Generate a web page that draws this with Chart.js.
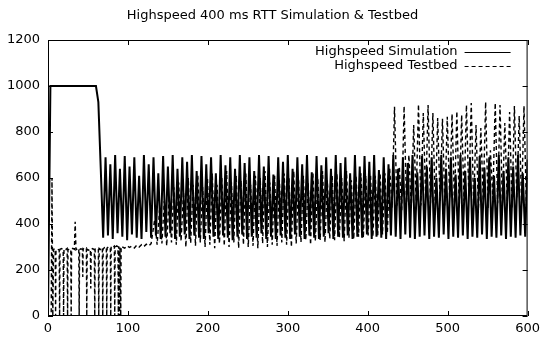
<!DOCTYPE html>
<html>
<head>
<meta charset="utf-8">
<script src="https://cdn.jsdelivr.net/npm/chart.js@4.4.1/dist/chart.umd.min.js"></script>
<style>
  body { margin: 0; background: #fff; }
</style>
</head>
<body>
<canvas id="rttChart" width="545" height="339"></canvas>
<script>
// samples every 3 s
const STEP = 3;
const xTicks = [0, 100, 200, 300, 400, 500, 600];
const yTicks = [0, 200, 400, 600, 800, 1000, 1200];

// simulation, t = 0, 3, 6 ... 600
const simulation = [
    0, 1000, 1000, 1000, 1000, 1000, 1000, 1000, 1000, 1000,
    1000, 1000, 1000, 1000, 1000, 1000, 1000, 1000, 1000, 1000,
    1000, 930, 640,
    340, 690, 350, 660, 335, 700, 360, 640, 345, 695, 330, 650,
    355, 690, 340, 610, 335, 700, 365, 660, 340, 690, 350, 620,
    335, 695, 345, 650, 360, 700, 335, 640, 345, 690, 355, 670,
    335, 700, 350, 630, 340, 695, 335, 660, 360, 690, 345, 620,
    335, 700, 350, 655, 340, 690, 330, 640, 345, 700, 355, 665,
    335, 690, 345, 630, 340, 700, 360, 650, 335, 695, 345, 615,
    335, 690, 350, 670, 340, 700, 335, 640, 355, 690, 345, 660,
    335, 700, 350, 625, 340, 695, 335, 655, 345, 690, 360, 640,
    335, 700, 345, 665, 340, 690, 350, 620, 335, 700, 345, 650,
    340, 695, 355, 670, 335, 700, 345, 635, 340, 690, 335, 660,
    350, 700, 345, 640, 335, 690, 355, 665, 340, 700, 335, 625,
    345, 695, 350, 650, 335, 690, 345, 600, 340, 700, 355, 640,
    335, 690, 345, 615, 340, 700, 350, 630, 335, 690, 345, 600,
    340, 695, 355, 645, 335, 690, 345, 610, 340, 700, 350, 630,
    335, 690, 345, 650, 340, 700, 350, 620, 345, 680
];

// testbed start-up, timeouts (irregular times)
const testbedStartT = [
    0, 4, 5, 6,
    7, 9, 9.5, 10, 12, 14, 14.5, 15, 17, 19, 19.5, 20,
    22, 24, 24.5, 25, 27, 28.5, 29, 29.5, 31, 33, 34, 35,
    37, 38.5, 39, 39.5, 41, 43, 43.5, 44, 46, 48, 48.5, 49,
    51, 53, 53.5, 54, 56, 58, 58.5, 59, 61, 63, 63.5, 64,
    66, 68, 68.5, 69, 71, 73, 73.5, 74, 76, 78, 78.5, 79,
    81, 83, 83.5, 84, 86, 87.5, 88, 88.5, 89.5, 90, 91, 91.5,
    93, 96, 99, 102, 105, 108, 111, 114, 117, 120, 123, 126, 129
];
const testbedStartV = [
    0, 0, 600, 0,
    290, 292, 0, 288, 291, 286, 0, 290, 293, 288, 0, 292,
    289, 294, 0, 287, 292, 290, 0, 291, 294, 290, 410, 288,
    293, 295, 0, 289, 292, 290, 170, 293, 288, 294, 0, 290,
    286, 291, 120, 289, 293, 288, 0, 292, 296, 290, 0, 294,
    289, 297, 0, 292, 298, 300, 0, 296, 301, 297, 0, 303,
    299, 304, 0, 300, 305, 301, 0, 303, 0, 298, 0, 302,
    300, 295, 305, 298, 304, 296, 308, 300, 310, 302, 312, 305, 315
];

// testbed, t = 133.5, 136.5 ... 600
const TESTBED_T0 = 133.5;
const testbed = [
    420, 310, 460, 315, 500, 305, 520, 320, 560, 310, 580, 325,
    540, 300, 600, 315, 570, 305, 610, 320, 560, 300, 600, 310,
    620, 295, 570, 315, 600, 305, 630, 300, 580, 320, 610, 295,
    590, 310, 620, 300, 570, 305, 610, 295, 600, 315, 630, 300,
    580, 310, 610, 305, 590, 320, 620, 310, 600, 300, 630, 315,
    590, 320, 610, 330, 580, 310, 620, 325, 600, 330, 630, 320,
    590, 335, 610, 330, 620, 340, 600, 325, 630, 340, 590, 335,
    610, 345, 620, 340, 610, 350, 615, 345, 610, 350, 620, 355,
    620, 360, 640, 470, 910, 480, 650, 460, 912, 490, 700, 470,
    830, 500, 920, 480, 883, 510, 917, 490, 883, 470, 861, 500,
    857, 480, 866, 510, 878, 490, 890, 470, 874, 500, 917, 520,
    926, 480, 830, 460, 817, 500, 930, 470, 720, 510, 926, 490,
    917, 480, 839, 500, 887, 470, 913, 510, 870, 490, 913, 480
];

const labels = ['Highspeed Simulation', 'Highspeed Testbed'];
const title = 'Highspeed 400 ms RTT Simulation & Testbed';

const FONT = 'DejaVu Sans';

const simPoints = simulation.map((v, i) => ({ x: i * STEP, y: v }));
const testbedPoints = testbedStartT.map((t, i) => ({ x: t, y: testbedStartV[i] }))
    .concat(testbed.map((v, i) => ({ x: TESTBED_T0 + i * STEP, y: v })));

// gnuplot look: full frame, inward ticks on all sides, legend inside top right
const gnuplotFrame = {
    id: 'gnuplotFrame',
    afterDraw(chart) {
        const { ctx, chartArea: a, scales } = chart;
        ctx.save();
        ctx.strokeStyle = '#000';
        ctx.lineWidth = 1;
        ctx.strokeRect(a.left + 0.5, a.top + 0.5, a.right - a.left - 1, a.bottom - a.top - 1);

        const len = 5;
        ctx.beginPath();
        xTicks.forEach(v => {
            const px = Math.round(scales.x.getPixelForValue(v)) + 0.5;
            ctx.moveTo(px, a.bottom);
            ctx.lineTo(px, a.bottom - len);
            ctx.moveTo(px, a.top);
            ctx.lineTo(px, a.top + len);
        });
        yTicks.forEach(v => {
            const py = Math.round(scales.y.getPixelForValue(v)) + 0.5;
            ctx.moveTo(a.left, py);
            ctx.lineTo(a.left + len, py);
            ctx.moveTo(a.right, py);
            ctx.lineTo(a.right - len, py);
        });
        ctx.stroke();

        // title
        ctx.fillStyle = '#000';
        ctx.font = '13px "' + FONT + '"';
        ctx.textAlign = 'center';
        ctx.textBaseline = 'middle';
        ctx.fillText(title, chart.width / 2, 16);

        // legend
        ctx.font = '13px "' + FONT + '"';
        ctx.textAlign = 'right';
        ctx.lineWidth = 1;
        chart.data.datasets.forEach((ds, i) => {
            const y = a.top + 12 + i * 14;
            ctx.fillText(ds.label, a.right - 70, y);
            ctx.setLineDash(ds.borderDash || []);
            ctx.beginPath();
            ctx.moveTo(a.right - 63, y + 0.5);
            ctx.lineTo(a.right - 17, y + 0.5);
            ctx.stroke();
        });
        ctx.restore();
    }
};

new Chart(document.getElementById('rttChart').getContext('2d'), {
    type: 'line',
    data: {
        datasets: [{
            label: labels[0],
            data: simPoints,
            borderColor: '#000',
            borderWidth: 2,
            pointRadius: 0,
            tension: 0,
        }, {
            label: labels[1],
            data: testbedPoints,
            borderColor: '#000',
            borderWidth: 1.4,
            borderDash: [4, 3],
            pointRadius: 0,
            tension: 0,
        }],
    },
    options: {
        responsive: false,
        animation: false,
        devicePixelRatio: 1,
        layout: { padding: { top: 40, right: 15, left: 0, bottom: 0 } },
        plugins: {
            legend: { display: false },
            title: { display: false },
            tooltip: { enabled: false },
        },
        scales: {
            x: {
                type: 'linear',
                min: 0,
                max: 600,
                grid: { display: false, drawTicks: false },
                border: { display: false },
                ticks: {
                    stepSize: 100,
                    color: '#000',
                    padding: 5,
                    maxRotation: 0,
                    font: { family: FONT, size: 13 },
                    callback: v => String(v),
                },
                afterFit(scale) { scale.height = 23; },
            },
            y: {
                min: 0,
                max: 1200,
                grid: { display: false, drawTicks: false },
                border: { display: false },
                ticks: {
                    stepSize: 200,
                    color: '#000',
                    padding: 8,
                    font: { family: FONT, size: 13 },
                    callback: v => String(v),
                },
                afterFit(scale) { scale.width = 48; },
            },
        },
    },
    plugins: [gnuplotFrame],
});
</script>
</body>
</html>
